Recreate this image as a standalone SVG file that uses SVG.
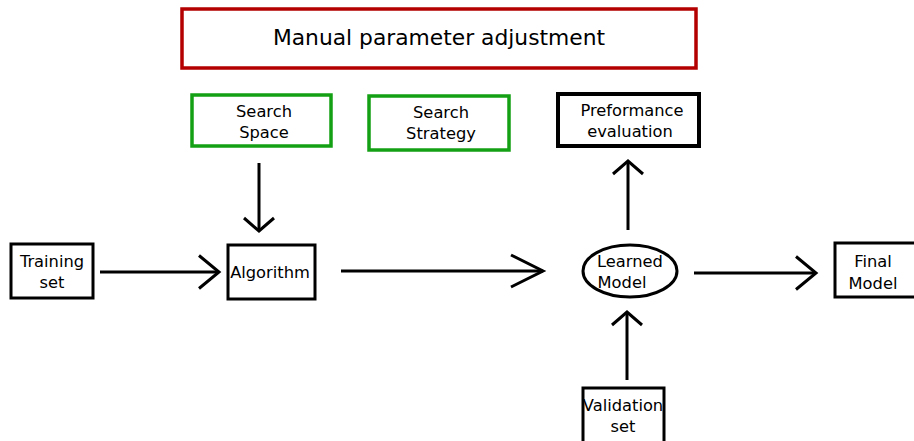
<svg xmlns="http://www.w3.org/2000/svg" width="914" height="441" viewBox="0 0 914 441">
<style>
text{font-family:"DejaVu Sans","Verdana",sans-serif;font-size:16.3px;fill:#000;text-anchor:middle}
.big{font-size:21.8px}
.red{fill:#fff;stroke:#b40000;stroke-width:3.5}
.green{fill:#fff;stroke:#14a014;stroke-width:3.5}
.blk{fill:#fff;stroke:#000;stroke-width:3}
.thick{fill:#fff;stroke:#000;stroke-width:4}
.conn{stroke:#000;stroke-width:3;fill:none}
.head{fill:none;stroke:#000;stroke-width:3}
</style>
<defs>
<marker id="arr" markerUnits="userSpaceOnUse" markerWidth="40" markerHeight="40" refX="22" refY="18" orient="auto" viewBox="0 0 40 36">
<path class="head" d="M2,1.5 L22,18 L2,34.5"/>
</marker>
<marker id="arrL" markerUnits="userSpaceOnUse" markerWidth="40" markerHeight="40" refX="34" refY="18" orient="auto" viewBox="0 0 40 36">
<path class="head" d="M2,2 L34,18 L2,34"/>
</marker>
<marker id="arrS" markerUnits="userSpaceOnUse" markerWidth="40" markerHeight="40" refX="15" refY="18" orient="auto" viewBox="0 0 40 36">
<path class="head" d="M2,3 L15,18 L2,33"/>
</marker>
</defs>
<rect width="914" height="441" fill="#fff"/>
<g id="manual"><rect class="red" x="182" y="9" width="514" height="59"/><text class="big" x="439" y="45">Manual parameter adjustment</text></g>
<g id="searchspace"><rect class="green" x="192" y="95" width="139" height="51"/><text x="264" y="117">Search</text><text x="264" y="138">Space</text></g>
<g id="searchstrategy"><rect class="green" x="369" y="96" width="140" height="54"/><text x="441" y="118">Search</text><text x="441" y="139">Strategy</text></g>
<g id="perf"><rect class="thick" x="558" y="94" width="141" height="52"/><text x="632" y="116">Preformance</text><text x="630" y="137">evaluation</text></g>
<g id="training"><rect class="blk" x="11" y="244" width="82" height="54"/><text x="52" y="267">Training</text><text x="52" y="288">set</text></g>
<g id="algorithm"><rect class="blk" x="228" y="245" width="87" height="54"/><text x="270" y="278">Algorithm</text></g>
<g id="learned"><ellipse cx="630" cy="271" rx="47" ry="26" fill="#fff" stroke="#000" stroke-width="3"/><text x="630" y="267">Learned</text><text x="622" y="288">Model</text></g>
<g id="final"><rect class="blk" x="835" y="243" width="82" height="54"/><text x="873" y="267">Final</text><text x="873" y="289">Model</text></g>
<g id="validation"><rect class="blk" x="583" y="388" width="81" height="56"/><text x="623" y="411">Validation</text><text x="623" y="432">set</text></g>
<g id="connectors">
<line class="conn" x1="259" y1="163" x2="259" y2="231" marker-end="url(#arrS)"/>
<line class="conn" x1="100" y1="272" x2="219" y2="272" marker-end="url(#arr)"/>
<line class="conn" x1="341" y1="271" x2="543" y2="271" marker-end="url(#arrL)"/>
<line class="conn" x1="628" y1="230" x2="628" y2="161" marker-end="url(#arrS)"/>
<line class="conn" x1="694" y1="273" x2="816" y2="273" marker-end="url(#arr)"/>
<line class="conn" x1="627" y1="380" x2="627" y2="312" marker-end="url(#arrS)"/>
</g>
</svg>
